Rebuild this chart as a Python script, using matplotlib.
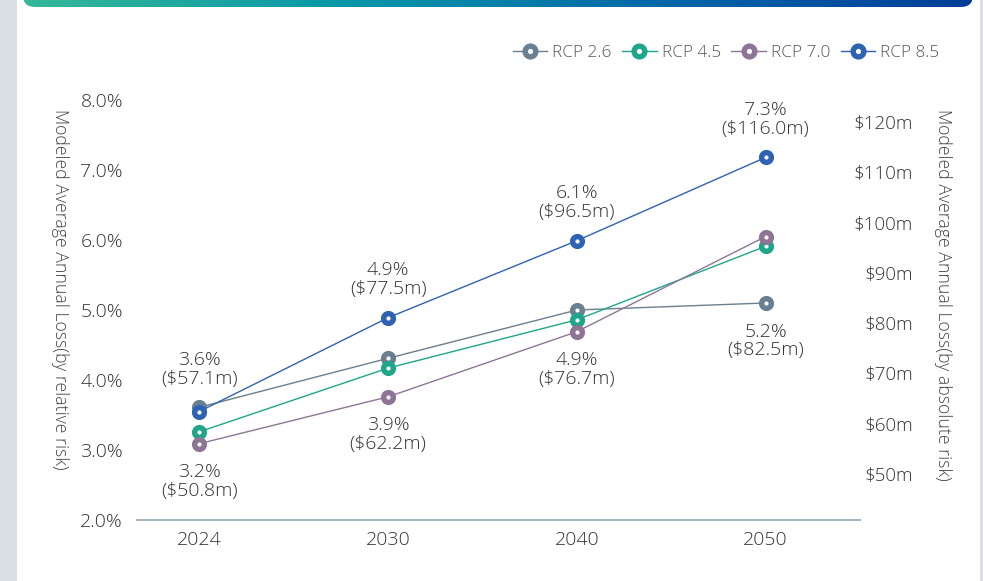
import numpy as np
import matplotlib
matplotlib.use('Agg')
import matplotlib.pyplot as plt
from matplotlib.patches import FancyBboxPatch, Rectangle

plt.rcParams['font.family'] = ['Open Sans', 'DejaVu Sans']
plt.rcParams['font.weight'] = 'light'

# data
years = ['2024', '2030', '2040', '2050']
series = ['RCP 2.6', 'RCP 4.5', 'RCP 7.0', 'RCP 8.5']
rcp26 = [3.61, 4.31, 5.00, 5.10]
rcp45 = [3.26, 4.17, 4.86, 5.91]
rcp70 = [3.09, 3.76, 4.69, 6.05]
rcp85 = [3.55, 4.89, 5.99, 7.18]
colors = ['#6a7f8f', '#1ea68a', '#8e7596', '#2e62b3']

left_ticks = [2, 3, 4, 5, 6, 7, 8]
right_ticks = [50, 60, 70, 80, 90, 100, 110, 120]

# labels: (year index, series index, text)
top_labels = [(0, 0, '3.6%\n($57.1m)'), (1, 3, '4.9%\n($77.5m)'),
              (2, 3, '6.1%\n($96.5m)'), (3, 3, '7.3%\n($116.0m)')]
bottom_labels = [(0, 2, '3.2%\n($50.8m)'), (1, 2, '3.9%\n($62.2m)'),
                 (2, 2, '4.9%\n($76.7m)'), (3, 0, '5.2%\n($82.5m)')]

W, H = 983, 581
fig = plt.figure(figsize=(W / 100, H / 100), dpi=100)
fig.patch.set_facecolor('white')

# side strips
fig.patches.append(Rectangle((0, 0), 17 / W, 1, transform=fig.transFigure,
                             facecolor='#d9e1e6', edgecolor='none', zorder=0))
fig.patches.append(Rectangle((980 / W, 0), 3 / W, 1, transform=fig.transFigure,
                             facecolor='#d9e1e6', edgecolor='none', zorder=0))

# gradient header bar
bar = fig.add_axes([23 / W, 1 - 7 / H, 950 / W, 27 / H])
bar.set_axis_off()
grad = np.linspace(0, 1, 256).reshape(1, -1)
cmap = matplotlib.colors.LinearSegmentedColormap.from_list(
    'hdr', ['#36b898', '#0a98a8', '#0568a8', '#003e98'])
im = bar.imshow(grad, cmap=cmap, extent=[0, 950, 0, 27], aspect='auto')
bar.set_xlim(0, 950)
bar.set_ylim(0, 27)
clip = FancyBboxPatch((0, 0), 950, 27, boxstyle='round,pad=0,rounding_size=12',
                      transform=bar.transData, facecolor='none', edgecolor='none')
bar.add_patch(clip)
im.set_clip_path(clip)

ax = fig.add_axes([137 / W, 1 - 520 / H, (860 - 137) / W, 420 / H])
ax.set_facecolor('none')
x = np.arange(len(years))
all_vals = [rcp26, rcp45, rcp70, rcp85]
lines = []
for name, vals, c in zip(series, all_vals, colors):
    ln, = ax.plot(x, vals, color=c, lw=1.0, marker='o', ms=7, mew=3.9,
                  mfc='white', mec=c, label=name, clip_on=False)
    lines.append(ln)

for xi, si, txt in top_labels:
    ax.annotate(txt, (xi, all_vals[si][xi]), xytext=(0, 38), textcoords='offset pixels',
                ha='center', va='center', fontsize=14, color='#333333', linespacing=1.05)
for xi, si, txt in bottom_labels:
    ax.annotate(txt, (xi, all_vals[si][xi]), xytext=(0, -38), textcoords='offset pixels',
                ha='center', va='center', fontsize=14, color='#333333', linespacing=1.05)

ax.set_xlim(-0.33, 3.5)
ax.set_ylim(2, 8)
ax.set_xticks(x)
ax.set_xticklabels(years)
ax.set_yticks(left_ticks)
ax.set_yticklabels(['%.1f%%' % t for t in left_ticks])
ax.tick_params(axis='both', length=0, labelsize=14, labelcolor='#333333')
ax.tick_params(axis='y', pad=10)
ax.tick_params(axis='x', pad=8)
for s in ['top', 'right', 'left']:
    ax.spines[s].set_visible(False)
ax.spines['bottom'].set_color('#aab8c2')
ax.spines['bottom'].set_linewidth(1.5)

ax2 = ax.twinx()
ax2.set_ylim(40.85, 124.4)
ax2.set_yticks(right_ticks)
ax2.set_yticklabels(['$%dm' % t for t in right_ticks])
ax2.tick_params(axis='y', length=0, labelsize=13.5, labelcolor='#333333', pad=38)
for lab in ax2.get_yticklabels():
    lab.set_horizontalalignment('right')
for s in ax2.spines.values():
    s.set_visible(False)

fig.text(60 / W, 1 - 289 / H, 'Modeled Average Annual Loss(by relative risk)',
         rotation=-90, ha='center', va='center', fontsize=12.7, color='#444444')
fig.text(943 / W, 1 - 295 / H, 'Modeled Average Annual Loss(by absolute risk)',
         rotation=-90, ha='center', va='center', fontsize=12.7, color='#444444')

fig.legend(handles=lines, loc='center right', bbox_to_anchor=(955 / W, 1 - 53 / H),
           ncol=4, frameon=False, fontsize=12.4, labelcolor='#555555',
           handlelength=2.0, handletextpad=0.3, columnspacing=0.6, markerscale=1.1)

fig.savefig('out.png', dpi=100)
